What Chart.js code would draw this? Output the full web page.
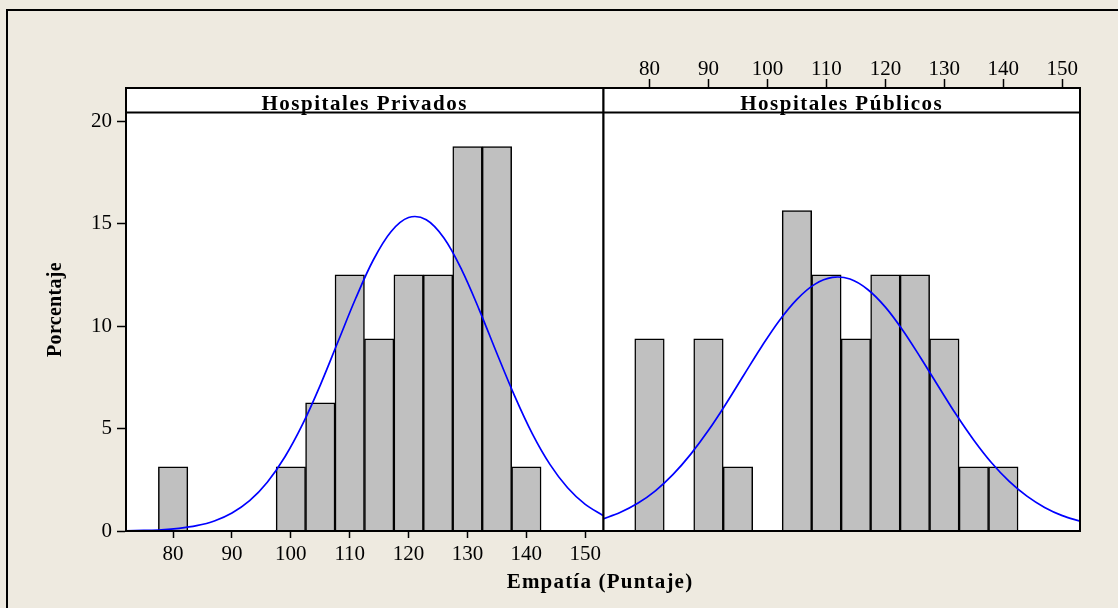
<!DOCTYPE html>
<html>
<head>
<meta charset="utf-8">
<title>Empatía (Puntaje) por tipo de hospital</title>
<script src="https://cdn.jsdelivr.net/npm/chart.js@4/dist/chart.umd.min.js"></script>
<style>
  html, body { margin: 0; padding: 0; background: #EEEAE0; }
  #wrap { position: relative; width: 1118px; height: 608px; background: #EEEAE0; overflow: hidden; }
  #wrap canvas { position: absolute; left: 0; top: 0; }
</style>
</head>
<body>
<div id="wrap">
  <canvas id="privados" width="1118" height="608"></canvas>
  <canvas id="publicos" width="1118" height="608"></canvas>
</div>
<script>
// Class centres (width 5) of the empathy score
const binCenters = [80, 85, 90, 95, 100, 105, 110, 115, 120, 125, 130, 135, 140];

// Percentage of staff in each class
const privadosPct = [3.125, 0, 0, 0, 3.125, 6.25, 12.5, 9.375, 12.5, 12.5, 18.75, 18.75, 3.125];
const publicosPct = [9.375, 0, 9.375, 3.125, 0, 15.625, 12.5, 9.375, 12.5, 12.5, 9.375, 3.125, 3.125];

// Fitted normal curve, sampled along the score axis
const curveX = [72, 75, 78, 81, 84, 87, 90, 93, 96, 99, 102, 105, 108, 111,
                114, 117, 120, 123, 126, 129, 132, 135, 138, 141, 144, 147, 150, 153];
const privadosCurve = [0.01, 0.03, 0.06, 0.13, 0.26, 0.49, 0.88, 1.48, 2.38, 3.62, 5.21, 7.12, 9.23, 11.34,
                       13.22, 14.60, 15.29, 15.18, 14.29, 12.75, 10.79, 8.66, 6.59, 4.75, 3.25, 2.11, 1.30, 0.76];
const publicosCurve = [0.58, 0.90, 1.35, 1.96, 2.76, 3.75, 4.91, 6.22, 7.61, 8.99, 10.26, 11.30, 12.03, 12.37,
                       12.29, 11.78, 10.92, 9.77, 8.44, 7.05, 5.68, 4.43, 3.33, 2.42, 1.70, 1.15, 0.75, 0.48];

// Axis tick labels
const xTicks = [80, 90, 100, 110, 120, 130, 140, 150];
const yTicks = [0, 5, 10, 15, 20];

// Text
const panelTitles = ['Hospitales Privados', 'Hospitales Públicos'];
const xTitle = 'Empatía (Puntaje)';
const yTitle = 'Porcentaje';

const SERIF = '"Liberation Serif", "Times New Roman", serif';
const HEADER_H = 24.5;

function histogramData(values) {
  return binCenters.map((c, i) => ({ x: c, y: values[i] }));
}
function curveData(values) {
  return curveX.map((x, i) => ({ x: x, y: values[i] }));
}

// White plot area, panel border and the strip carrying the panel name
function panelPlugin(title, extra) {
  return {
    id: 'panelFrame',
    beforeDraw(chart) {
      const { ctx, chartArea: a } = chart;
      ctx.save();
      if (extra) extra(ctx);
      ctx.fillStyle = '#ffffff';
      ctx.fillRect(a.left, a.top, a.right - a.left, a.bottom - a.top);
      ctx.restore();
    },
    afterDraw(chart) {
      const { ctx, chartArea: a } = chart;
      ctx.save();
      ctx.strokeStyle = '#000';
      ctx.lineWidth = 2;
      ctx.strokeRect(a.left, a.top, a.right - a.left, a.bottom - a.top);
      ctx.beginPath();
      ctx.moveTo(a.left, a.top + HEADER_H);
      ctx.lineTo(a.right, a.top + HEADER_H);
      ctx.stroke();
      ctx.fillStyle = '#000';
      ctx.font = 'bold 21px ' + SERIF;
      ctx.letterSpacing = '1.5px';
      ctx.textAlign = 'center';
      ctx.textBaseline = 'alphabetic';
      ctx.fillText(title, (a.left + a.right) / 2, a.top + 22);
      ctx.restore();
    }
  };
}

// Outer frame and the shared axis titles
function figureDecor(ctx) {
  ctx.strokeStyle = '#000';
  ctx.lineWidth = 2;
  ctx.beginPath();
  ctx.moveTo(7, 608);
  ctx.lineTo(7, 10);
  ctx.lineTo(1118, 10);
  ctx.stroke();

  ctx.fillStyle = '#000';
  ctx.font = 'bold 21px ' + SERIF;
  ctx.letterSpacing = '1.2px';
  ctx.textAlign = 'center';
  ctx.textBaseline = 'alphabetic';
  ctx.fillText(xTitle, 600, 588);

  ctx.save();
  ctx.translate(61, 309.5);
  ctx.rotate(-Math.PI / 2);
  ctx.font = 'bold 20px ' + SERIF;
  ctx.letterSpacing = '0.3px';
  ctx.fillText(yTitle, 0, 0);
  ctx.restore();
}

const tickFont = { family: SERIF, size: 21 };
const Y_MAX = 21.61;

function datasets(pct, curve) {
  return [
    {
      type: 'line',
      data: curveData(curve),
      borderColor: '#0000ff',
      borderWidth: 1.7,
      pointRadius: 0,
      tension: 0.35,
      order: 0
    },
    {
      type: 'bar',
      data: histogramData(pct),
      backgroundColor: '#c0c0c0',
      borderColor: '#000',
      borderWidth: 1.5,
      barPercentage: 1,
      categoryPercentage: 1,
      order: 1
    }
  ];
}

function xScale(min, max, position, tickLen, pad, height) {
  return {
    type: 'linear',
    position: position,
    min: min,
    max: max,
    offset: false,
    afterBuildTicks(scale) { scale.ticks = xTicks.map(v => ({ value: v })); },
    afterFit(scale) { scale.height = height; },
    grid: { offset: false, drawOnChartArea: false, drawTicks: true, tickLength: tickLen, tickColor: '#000', tickWidth: 1.5 },
    border: { display: true, color: '#000', width: 2 },
    ticks: { font: tickFont, color: '#000', padding: pad, maxRotation: 0, autoSkip: false }
  };
}

const common = {
  responsive: false,
  animation: false,
  devicePixelRatio: 1,
  plugins: { legend: { display: false }, tooltip: { enabled: false }, title: { display: false } }
};

new Chart(document.getElementById('privados'), {
  type: 'bar',
  data: { datasets: datasets(privadosPct, privadosCurve) },
  options: Object.assign({}, common, {
    layout: { padding: { left: 0, top: 88, right: 514.5, bottom: 0 } },
    scales: {
      x: xScale(72, 153.1, 'bottom', 7, 4, 77),
      y: {
        type: 'linear',
        min: 0,
        max: Y_MAX,
        afterBuildTicks(scale) { scale.ticks = yTicks.map(v => ({ value: v })); },
        afterFit(scale) { scale.width = 126; },
        grid: { offset: false, drawOnChartArea: false, drawTicks: true, tickLength: 9, tickColor: '#000', tickWidth: 1.5 },
        border: { display: true, color: '#000', width: 2 },
        ticks: { font: tickFont, color: '#000', padding: 5 }
      }
    }
  }),
  plugins: [panelPlugin(panelTitles[0], figureDecor)]
});

new Chart(document.getElementById('publicos'), {
  type: 'bar',
  data: { datasets: datasets(publicosPct, publicosCurve) },
  options: Object.assign({}, common, {
    layout: { padding: { left: 603.5, top: 0, right: 38, bottom: 77 } },
    scales: {
      x: xScale(72.2, 153.0, 'top', 9, -3, 88),
      y: { type: 'linear', display: false, min: 0, max: Y_MAX }
    }
  }),
  plugins: [panelPlugin(panelTitles[1], null)]
});
</script>
</body>
</html>
